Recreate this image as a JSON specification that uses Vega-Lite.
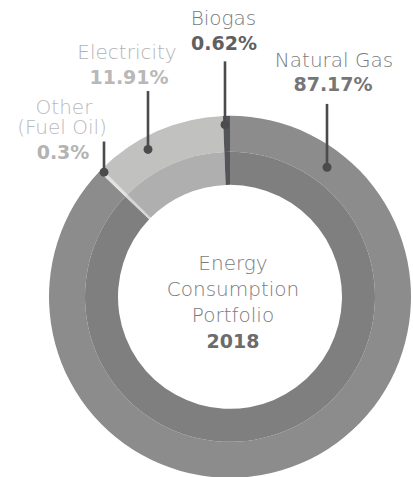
{
  "$schema": "https://vega.github.io/schema/vega-lite/v6.json",
  "width": 413,
  "height": 477,
  "padding": 0,
  "autosize": {"type": "fit", "contains": "padding"},
  "background": "white",
  "config": {"view": {"stroke": null}},
  "datasets": {
    "slices": [
      {"cat": "Natural Gas", "value": 87.17, "idx": 1},
      {"cat": "Other", "value": 0.3, "idx": 2},
      {"cat": "Electricity", "value": 11.91, "idx": 3},
      {"cat": "Biogas", "value": 0.62, "idx": 4}
    ],
    "leaders": [
      {"cat": "Natural Gas", "x": 97, "y": 195, "y2": 131},
      {"cat": "Electricity", "x": -82, "y": 208, "y2": 149},
      {"cat": "Biogas", "x": -5, "y": 238, "y2": 174},
      {"cat": "Other", "x": -126, "y": 157, "y2": 126}
    ],
    "labels": [
      {"cat": "Biogas", "text": "Biogas", "kind": "name", "x": -6.5, "y": 275},
      {"cat": "Biogas", "text": "0.62%", "kind": "value", "x": -6, "y": 249},
      {"cat": "Electricity", "text": "Electricity", "kind": "name", "x": -103, "y": 240},
      {"cat": "Electricity", "text": "11.91%", "kind": "value", "x": -101, "y": 215},
      {"cat": "Natural Gas", "text": "Natural Gas", "kind": "name", "x": 104, "y": 232},
      {"cat": "Natural Gas", "text": "87.17%", "kind": "value", "x": 103, "y": 208},
      {"cat": "Other", "text": "Other", "kind": "name", "x": -166, "y": 185},
      {"cat": "Other", "text": "(Fuel Oil)", "kind": "name", "x": -168, "y": 165},
      {"cat": "Other", "text": "0.3%", "kind": "value", "x": -167, "y": 139},
      {"cat": "Title", "text": "Energy", "kind": "name", "x": 3, "y": 27},
      {"cat": "Title", "text": "Consumption", "kind": "name", "x": 3, "y": 1},
      {"cat": "Title", "text": "Portfolio", "kind": "name", "x": 3, "y": -25},
      {"cat": "Title", "text": "2018", "kind": "value", "x": 3, "y": -52}
    ]
  },
  "layer": [
    {
      "data": {"name": "slices"},
      "mark": {"type": "arc", "outerRadius": 181, "innerRadius": 145, "stroke": null},
      "encoding": {
        "x": {"datum": 0, "type": "quantitative", "scale": {"domain": [-230, 183], "nice": false, "zero": false}, "axis": null},
        "y": {"datum": 0, "type": "quantitative", "scale": {"domain": [-177, 300], "nice": false, "zero": false}, "axis": null},
        "theta": {"field": "value", "type": "quantitative", "stack": true},
        "order": {"field": "idx", "type": "quantitative"},
        "color": {"field": "cat", "type": "nominal", "legend": null,
          "scale": {"domain": ["Natural Gas", "Other", "Electricity", "Biogas"], "range": ["#8b8c8b", "#e2e2e2", "#c1c1c0", "#545558"]}}
      }
    },
    {
      "data": {"name": "slices"},
      "mark": {"type": "arc", "outerRadius": 145, "innerRadius": 112, "stroke": null},
      "encoding": {
        "x": {"datum": 0, "type": "quantitative", "scale": {"domain": [-230, 183], "nice": false, "zero": false}, "axis": null},
        "y": {"datum": 0, "type": "quantitative", "scale": {"domain": [-177, 300], "nice": false, "zero": false}, "axis": null},
        "theta": {"field": "value", "type": "quantitative", "stack": true},
        "order": {"field": "idx", "type": "quantitative"},
        "color": {"field": "cat", "type": "nominal", "legend": null,
          "scale": {"domain": ["Natural Gas", "Other", "Electricity", "Biogas"], "range": ["#7e7f7e", "#d6d6d6", "#aeafae", "#545558"]}}
      }
    },
    {
      "data": {"name": "leaders"},
      "mark": {"type": "rule", "color": "#4a4b4d", "strokeWidth": 2.6},
      "encoding": {
        "x": {"field": "x", "type": "quantitative", "scale": {"domain": [-230, 183], "nice": false, "zero": false}, "axis": null},
        "y": {"field": "y", "type": "quantitative", "scale": {"domain": [-177, 300], "nice": false, "zero": false}, "axis": null},
        "y2": {"field": "y2"}
      }
    },
    {
      "data": {"name": "leaders"},
      "mark": {"type": "point", "filled": true, "opacity": 1, "color": "#4a4b4d", "size": 80},
      "encoding": {
        "x": {"field": "x", "type": "quantitative", "scale": {"domain": [-230, 183], "nice": false, "zero": false}, "axis": null},
        "y": {"field": "y2", "type": "quantitative", "scale": {"domain": [-177, 300], "nice": false, "zero": false}, "axis": null}
      }
    },
    {
      "data": {"name": "labels"},
      "transform": [{"filter": "datum.kind == 'name'"}],
      "mark": {"type": "text", "font": "DejaVu Sans", "fontWeight": 200, "fontSize": 20, "align": "center", "baseline": "alphabetic"},
      "encoding": {
        "x": {"field": "x", "type": "quantitative", "scale": {"domain": [-230, 183], "nice": false, "zero": false}, "axis": null},
        "y": {"field": "y", "type": "quantitative", "scale": {"domain": [-177, 300], "nice": false, "zero": false}, "axis": null},
        "text": {"field": "text"},
        "color": {"field": "cat", "type": "nominal", "legend": null,
          "scale": {"domain": ["Biogas", "Electricity", "Natural Gas", "Other", "Title"], "range": ["#78797a", "#b3b3b3", "#7a7b7b", "#b9b9b9", "#7a7b7b"]}}
      }
    },
    {
      "data": {"name": "labels"},
      "transform": [{"filter": "datum.kind == 'value'"}],
      "mark": {"type": "text", "font": "DejaVu Sans", "fontWeight": "bold", "fontSize": 19, "align": "center", "baseline": "alphabetic"},
      "encoding": {
        "x": {"field": "x", "type": "quantitative", "scale": {"domain": [-230, 183], "nice": false, "zero": false}, "axis": null},
        "y": {"field": "y", "type": "quantitative", "scale": {"domain": [-177, 300], "nice": false, "zero": false}, "axis": null},
        "text": {"field": "text"},
        "color": {"field": "cat", "type": "nominal", "legend": null,
          "scale": {"domain": ["Biogas", "Electricity", "Natural Gas", "Other", "Title"], "range": ["#5f6062", "#b8b8b8", "#757676", "#b3b3b3", "#6b6c6c"]}}
      }
    }
  ],
  "resolve": {"scale": {"color": "independent"}}
}
